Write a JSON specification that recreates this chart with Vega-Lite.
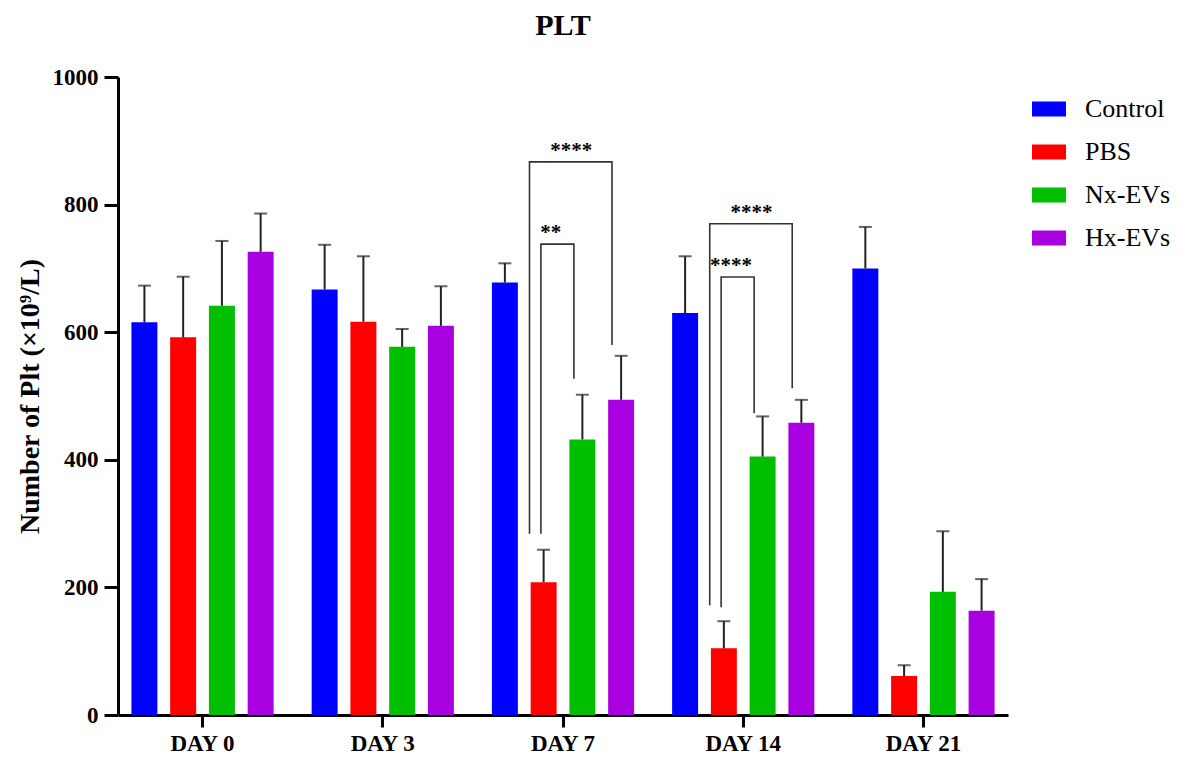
{
  "$schema": "https://vega.github.io/schema/vega-lite/v6.json",
  "width": 890,
  "height": 638,
  "autosize": {"type": "none"},
  "padding": {"left": 118, "top": 77, "right": 175, "bottom": 45},
  "background": "white",
  "title": {"text": "PLT", "font": "Liberation Serif", "fontSize": 30, "fontWeight": "bold", "color": "black", "anchor": "middle", "offset": 25},
  "config": {"view": {"stroke": null}},
  "resolve": {"scale": {"xOffset": "independent"}},
  "datasets": {
    "bars": [
      {"day": "DAY 0", "group": "Control", "mean": 615.5, "upper": 673},
      {"day": "DAY 0", "group": "PBS", "mean": 592, "upper": 687},
      {"day": "DAY 0", "group": "Nx-EVs", "mean": 641.5, "upper": 743},
      {"day": "DAY 0", "group": "Hx-EVs", "mean": 726, "upper": 786},
      {"day": "DAY 3", "group": "Control", "mean": 667, "upper": 737},
      {"day": "DAY 3", "group": "PBS", "mean": 616.5, "upper": 719},
      {"day": "DAY 3", "group": "Nx-EVs", "mean": 577, "upper": 605},
      {"day": "DAY 3", "group": "Hx-EVs", "mean": 610, "upper": 672},
      {"day": "DAY 7", "group": "Control", "mean": 678, "upper": 708},
      {"day": "DAY 7", "group": "PBS", "mean": 208, "upper": 259},
      {"day": "DAY 7", "group": "Nx-EVs", "mean": 432, "upper": 502},
      {"day": "DAY 7", "group": "Hx-EVs", "mean": 494, "upper": 563},
      {"day": "DAY 14", "group": "Control", "mean": 630, "upper": 719},
      {"day": "DAY 14", "group": "PBS", "mean": 104.5, "upper": 147},
      {"day": "DAY 14", "group": "Nx-EVs", "mean": 405, "upper": 468},
      {"day": "DAY 14", "group": "Hx-EVs", "mean": 458, "upper": 494},
      {"day": "DAY 21", "group": "Control", "mean": 700, "upper": 765},
      {"day": "DAY 21", "group": "PBS", "mean": 61, "upper": 78},
      {"day": "DAY 21", "group": "Nx-EVs", "mean": 193, "upper": 288},
      {"day": "DAY 21", "group": "Hx-EVs", "mean": 163.5, "upper": 213}
    ],
    "brackets": [
      {"day": "DAY 7", "bracket": "D7 PBS-Hx", "kind": "outer", "group": "PBS", "y": 284, "k": 1},
      {"day": "DAY 7", "bracket": "D7 PBS-Hx", "kind": "outer", "group": "PBS", "y": 867, "k": 2},
      {"day": "DAY 7", "bracket": "D7 PBS-Hx", "kind": "outer", "group": "Hx-EVs", "y": 867, "k": 3},
      {"day": "DAY 7", "bracket": "D7 PBS-Hx", "kind": "outer", "group": "Hx-EVs", "y": 580, "k": 4},
      {"day": "DAY 7", "bracket": "D7 PBS-Nx", "kind": "inner", "group": "PBS", "y": 284, "k": 1},
      {"day": "DAY 7", "bracket": "D7 PBS-Nx", "kind": "inner", "group": "PBS", "y": 738, "k": 2},
      {"day": "DAY 7", "bracket": "D7 PBS-Nx", "kind": "inner", "group": "Nx-EVs", "y": 738, "k": 3},
      {"day": "DAY 7", "bracket": "D7 PBS-Nx", "kind": "inner", "group": "Nx-EVs", "y": 527, "k": 4},
      {"day": "DAY 14", "bracket": "D14 PBS-Hx", "kind": "outer", "group": "PBS", "y": 172, "k": 1},
      {"day": "DAY 14", "bracket": "D14 PBS-Hx", "kind": "outer", "group": "PBS", "y": 770, "k": 2},
      {"day": "DAY 14", "bracket": "D14 PBS-Hx", "kind": "outer", "group": "Hx-EVs", "y": 770, "k": 3},
      {"day": "DAY 14", "bracket": "D14 PBS-Hx", "kind": "outer", "group": "Hx-EVs", "y": 512, "k": 4},
      {"day": "DAY 14", "bracket": "D14 PBS-Nx", "kind": "inner", "group": "PBS", "y": 169, "k": 1},
      {"day": "DAY 14", "bracket": "D14 PBS-Nx", "kind": "inner", "group": "PBS", "y": 686.5, "k": 2},
      {"day": "DAY 14", "bracket": "D14 PBS-Nx", "kind": "inner", "group": "Nx-EVs", "y": 686.5, "k": 3},
      {"day": "DAY 14", "bracket": "D14 PBS-Nx", "kind": "inner", "group": "Nx-EVs", "y": 473, "k": 4}
    ],
    "stars": [
      {"day": "DAY 7", "kind": "outer", "anchor": "Nx-EVs", "y": 867, "label": "****"},
      {"day": "DAY 7", "kind": "inner", "anchor": "PBS", "y": 738, "label": "**"},
      {"day": "DAY 14", "kind": "outer", "anchor": "Nx-EVs", "y": 770, "label": "****"},
      {"day": "DAY 14", "kind": "inner", "anchor": "PBS", "y": 686.5, "label": "****"}
    ]
  },
  "encoding": {
    "x": {
      "field": "day", "type": "nominal",
      "scale": {"domain": ["DAY 0", "DAY 3", "DAY 7", "DAY 14", "DAY 21"], "paddingInner": 0.14, "paddingOuter": 0.039},
      "axis": {"title": null, "labelAngle": 0, "domainWidth": 3, "domainColor": "black", "tickWidth": 3, "tickColor": "black", "tickSize": 12, "labelFont": "Liberation Serif", "labelFontSize": 23, "labelFontWeight": "bold", "labelColor": "black", "labelPadding": 5}
    }
  },
  "layer": [
    {
      "data": {"name": "bars"},
      "mark": {"type": "bar"},
      "encoding": {
        "xOffset": {"field": "group", "type": "nominal", "scale": {"domain": ["Control", "PBS", "Nx-EVs", "Hx-EVs"], "paddingInner": 0.33, "paddingOuter": 0.165}},
        "y": {
          "field": "mean", "type": "quantitative",
          "scale": {"domain": [0, 1000], "nice": false},
          "axis": {"title": "Number of Plt (×10⁹/L)", "values": [0, 200, 400, 600, 800, 1000], "format": "d", "grid": false, "domainWidth": 3, "domainColor": "black", "tickWidth": 3, "tickColor": "black", "tickSize": 14, "labelFont": "Liberation Serif", "labelFontSize": 23, "labelFontWeight": "bold", "labelColor": "black", "labelPadding": 6, "titleFont": "Liberation Serif", "titleFontSize": 28, "titleFontWeight": "bold", "titleColor": "black", "titlePadding": 8}
        },
        "color": {
          "field": "group", "type": "nominal",
          "scale": {"domain": ["Control", "PBS", "Nx-EVs", "Hx-EVs"], "range": ["#0000FF", "#FF0000", "#00BF00", "#A800E0"]},
          "legend": {"orient": "none", "legendX": 914, "legendY": 15, "title": null, "symbolType": "M-1,-0.44L1,-0.44L1,0.44L-1,0.44Z", "symbolSize": 1156, "symbolStrokeWidth": 0, "labelFont": "Liberation Serif", "labelFontSize": 26, "labelColor": "black", "rowPadding": 13, "labelOffset": 19}
        }
      }
    },
    {
      "data": {"name": "bars"},
      "mark": {"type": "rule", "color": "#222222", "strokeWidth": 2},
      "encoding": {
        "xOffset": {"field": "group", "type": "nominal", "scale": {"domain": ["Control", "PBS", "Nx-EVs", "Hx-EVs"], "paddingInner": 0.33, "paddingOuter": 0.165}},
        "y": {"field": "mean", "type": "quantitative"},
        "y2": {"field": "upper"}
      }
    },
    {
      "data": {"name": "bars"},
      "mark": {"type": "tick", "color": "#222222", "size": 13, "thickness": 2, "orient": "horizontal"},
      "encoding": {
        "xOffset": {"field": "group", "type": "nominal", "scale": {"domain": ["Control", "PBS", "Nx-EVs", "Hx-EVs"], "paddingInner": 0.33, "paddingOuter": 0.165}},
        "y": {"field": "upper", "type": "quantitative"}
      }
    },
    {
      "data": {"name": "brackets"},
      "transform": [{"filter": "datum.kind == 'outer'"}],
      "mark": {"type": "line", "color": "#333333", "strokeWidth": 1.6},
      "encoding": {
        "xOffset": {"field": "group", "type": "nominal", "scale": {"type": "point", "domain": ["Control", "PBS", "Nx-EVs", "Hx-EVs"], "padding": 0.379, "align": 0.088}},
        "y": {"field": "y", "type": "quantitative"},
        "detail": {"field": "bracket"},
        "order": {"field": "k", "type": "quantitative"}
      }
    },
    {
      "data": {"name": "brackets"},
      "transform": [{"filter": "datum.kind == 'inner'"}],
      "mark": {"type": "line", "color": "#333333", "strokeWidth": 1.6},
      "encoding": {
        "xOffset": {"field": "group", "type": "nominal", "scale": {"type": "point", "domain": ["Control", "PBS", "Nx-EVs", "Hx-EVs"], "padding": 0.848, "align": 0.4}},
        "y": {"field": "y", "type": "quantitative"},
        "detail": {"field": "bracket"},
        "order": {"field": "k", "type": "quantitative"}
      }
    },
    {
      "data": {"name": "stars"},
      "transform": [{"filter": "datum.kind == 'outer'"}],
      "mark": {"type": "text", "font": "Liberation Serif", "fontSize": 21, "fontWeight": "bold", "color": "black", "align": "center", "baseline": "alphabetic", "dy": -5, "dx": -15},
      "encoding": {
        "xOffset": {"field": "anchor", "type": "nominal", "scale": {"domain": ["Control", "PBS", "Nx-EVs", "Hx-EVs"], "paddingInner": 0.33, "paddingOuter": 0.165}},
        "y": {"field": "y", "type": "quantitative"},
        "text": {"field": "label"}
      }
    },
    {
      "data": {"name": "stars"},
      "transform": [{"filter": "datum.kind == 'inner'"}],
      "mark": {"type": "text", "font": "Liberation Serif", "fontSize": 21, "fontWeight": "bold", "color": "black", "align": "center", "baseline": "alphabetic", "dy": -5, "dx": 11},
      "encoding": {
        "xOffset": {"field": "anchor", "type": "nominal", "scale": {"domain": ["Control", "PBS", "Nx-EVs", "Hx-EVs"], "paddingInner": 0.33, "paddingOuter": 0.165}},
        "y": {"field": "y", "type": "quantitative"},
        "text": {"field": "label"}
      }
    }
  ]
}
